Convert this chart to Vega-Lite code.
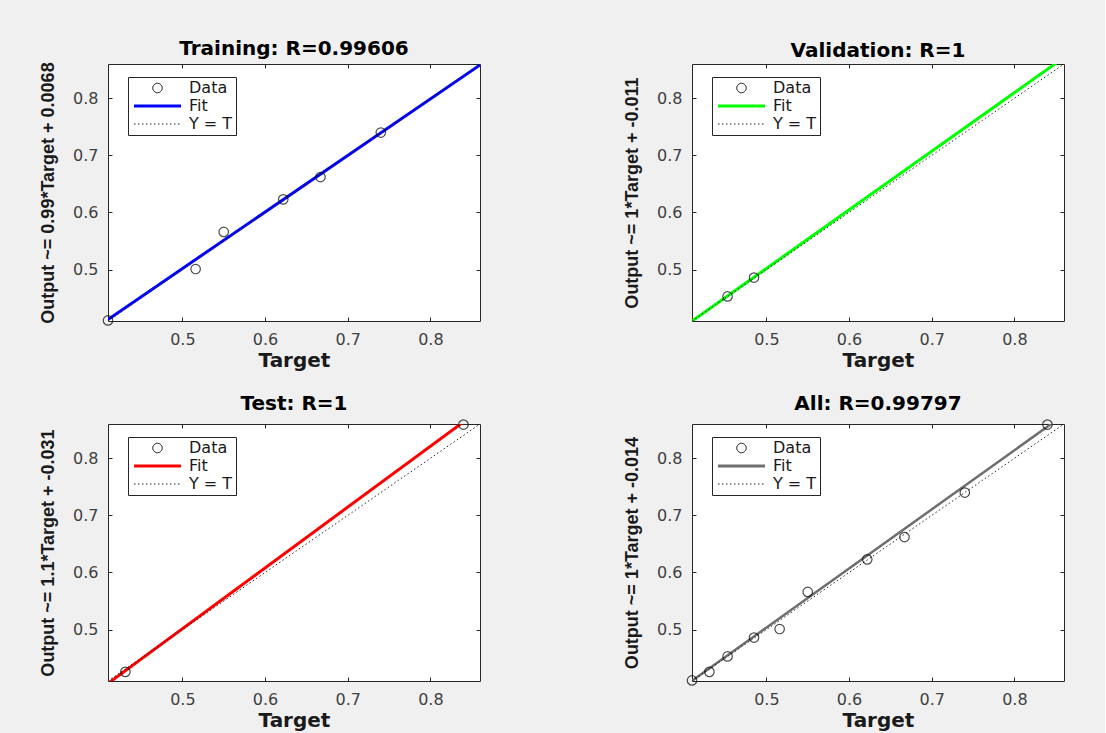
{
  "$schema": "https://vega.github.io/schema/vega-lite/v6.json",
  "background": "#f0f0f0",
  "padding": {"left": 39, "top": 38, "right": 40, "bottom": 3},
  "datasets": {
    "train_pts": [
      {"t": 0.41, "o": 0.411, "series": "Data"},
      {"t": 0.516, "o": 0.501, "series": "Data"},
      {"t": 0.55, "o": 0.566, "series": "Data"},
      {"t": 0.622, "o": 0.623, "series": "Data"},
      {"t": 0.667, "o": 0.662, "series": "Data"},
      {"t": 0.74, "o": 0.74, "series": "Data"}
    ],
    "val_pts": [
      {"t": 0.453, "o": 0.453, "series": "Data"},
      {"t": 0.485, "o": 0.486, "series": "Data"}
    ],
    "test_pts": [
      {"t": 0.431, "o": 0.426, "series": "Data"},
      {"t": 0.84, "o": 0.859, "series": "Data"}
    ],
    "all_pts": [
      {"t": 0.41, "o": 0.411, "series": "Data"},
      {"t": 0.431, "o": 0.426, "series": "Data"},
      {"t": 0.453, "o": 0.453, "series": "Data"},
      {"t": 0.485, "o": 0.486, "series": "Data"},
      {"t": 0.516, "o": 0.501, "series": "Data"},
      {"t": 0.55, "o": 0.566, "series": "Data"},
      {"t": 0.622, "o": 0.623, "series": "Data"},
      {"t": 0.667, "o": 0.662, "series": "Data"},
      {"t": 0.74, "o": 0.74, "series": "Data"},
      {"t": 0.84, "o": 0.859, "series": "Data"}
    ],
    "train_fit": [
      {"t": 0.41, "o": 0.4127, "series": "Fit"},
      {"t": 0.86, "o": 0.8582, "series": "Fit"}
    ],
    "val_fit": [
      {"t": 0.41, "o": 0.4097, "series": "Fit"},
      {"t": 0.86, "o": 0.8714, "series": "Fit"}
    ],
    "test_fit": [
      {"t": 0.41, "o": 0.4057, "series": "Fit"},
      {"t": 0.86, "o": 0.8849, "series": "Fit"}
    ],
    "all_fit": [
      {"t": 0.41, "o": 0.4104, "series": "Fit"},
      {"t": 0.86, "o": 0.8761, "series": "Fit"}
    ],
    "identity": [
      {"t": 0.41, "o": 0.41, "series": "Y = T"},
      {"t": 0.86, "o": 0.86, "series": "Y = T"}
    ]
  },
  "columns": 2,
  "spacing": {"column": 142, "row": 22},
  "resolve": {"scale": {"color": "independent"}, "legend": {"color": "independent"}},
  "concat": [
    {
      "width": 372, "height": 257,
      "title": {"text": "Training: R=0.99606"},
      "resolve": {"axis": {"x": "independent", "y": "independent"}},
      "layer": [
        {
          "data": {"name": "train_fit"},
          "mark": {"type": "line", "clip": true, "strokeWidth": 3},
          "encoding": {
            "x": {"field": "t", "type": "quantitative", "scale": {"domain": [0.41, 0.86], "nice": false, "zero": false}, "axis": {"orient": "bottom", "values": [0.5, 0.6, 0.7, 0.8], "format": ".1f", "title": "Target"}},
            "y": {"field": "o", "type": "quantitative", "scale": {"domain": [0.41, 0.86], "nice": false, "zero": false}, "axis": {"orient": "left", "values": [0.5, 0.6, 0.7, 0.8], "format": ".1f", "title": "Output ~= 0.99*Target + 0.0068"}},
            "color": {"field": "series", "type": "nominal", "scale": {"domain": ["Data", "Fit", "Y = T"], "range": ["#000000", "#0000ff", "#262626"]},
              "legend": {"title": null, "orient": "none", "legendX": 20, "legendY": 13,
                "encode": {"symbols": {"update": {
                  "shape": {"signal": "datum.value === 'Data' ? 'circle' : 'M-2.35,0H2.35'"},
                  "size": {"signal": "datum.value === 'Data' ? 90 : 400"},
                  "strokeDash": {"signal": "datum.value === 'Y = T' ? [1.5, 2.5] : [1, 0]"},
                  "strokeWidth": {"signal": "datum.value === 'Fit' ? 3 : 1"},
                  "stroke": {"signal": "datum.value === 'Fit' ? '#0000ff' : (datum.value === 'Data' ? '#000000' : '#262626')"},
                  "fill": {"value": "transparent"},
                  "x": {"value": 26.5}
                }}}}}
          }
        },
        {
          "data": {"name": "identity"},
          "mark": {"type": "line", "clip": true, "strokeWidth": 1, "strokeDash": [1.5, 2.5]},
          "encoding": {
            "x": {"field": "t", "type": "quantitative", "scale": {"domain": [0.41, 0.86], "nice": false, "zero": false}, "axis": {"orient": "top", "values": [0.5, 0.6, 0.7, 0.8], "labels": false, "title": null}},
            "y": {"field": "o", "type": "quantitative", "scale": {"domain": [0.41, 0.86], "nice": false, "zero": false}, "axis": {"orient": "right", "values": [0.5, 0.6, 0.7, 0.8], "labels": false, "title": null}},
            "color": {"field": "series", "type": "nominal"}
          }
        },
        {
          "data": {"name": "train_pts"},
          "mark": {"type": "point", "shape": "circle", "filled": false, "size": 90, "strokeWidth": 1.2},
          "encoding": {
            "x": {"field": "t", "type": "quantitative", "axis": null},
            "y": {"field": "o", "type": "quantitative", "axis": null},
            "color": {"field": "series", "type": "nominal"}
          }
        }
      ]
    },
    {
      "width": 372, "height": 257,
      "title": {"text": "Validation: R=1"},
      "resolve": {"axis": {"x": "independent", "y": "independent"}},
      "layer": [
        {
          "data": {"name": "val_fit"},
          "mark": {"type": "line", "clip": true, "strokeWidth": 3},
          "encoding": {
            "x": {"field": "t", "type": "quantitative", "scale": {"domain": [0.41, 0.86], "nice": false, "zero": false}, "axis": {"orient": "bottom", "values": [0.5, 0.6, 0.7, 0.8], "format": ".1f", "title": "Target"}},
            "y": {"field": "o", "type": "quantitative", "scale": {"domain": [0.41, 0.86], "nice": false, "zero": false}, "axis": {"orient": "left", "values": [0.5, 0.6, 0.7, 0.8], "format": ".1f", "title": "Output ~= 1*Target + -0.011"}},
            "color": {"field": "series", "type": "nominal", "scale": {"domain": ["Data", "Fit", "Y = T"], "range": ["#000000", "#00ff00", "#262626"]},
              "legend": {"title": null, "orient": "none", "legendX": 20, "legendY": 13,
                "encode": {"symbols": {"update": {
                  "shape": {"signal": "datum.value === 'Data' ? 'circle' : 'M-2.35,0H2.35'"},
                  "size": {"signal": "datum.value === 'Data' ? 90 : 400"},
                  "strokeDash": {"signal": "datum.value === 'Y = T' ? [1.5, 2.5] : [1, 0]"},
                  "strokeWidth": {"signal": "datum.value === 'Fit' ? 3 : 1"},
                  "stroke": {"signal": "datum.value === 'Fit' ? '#00ff00' : (datum.value === 'Data' ? '#000000' : '#262626')"},
                  "fill": {"value": "transparent"},
                  "x": {"value": 26.5}
                }}}}}
          }
        },
        {
          "data": {"name": "identity"},
          "mark": {"type": "line", "clip": true, "strokeWidth": 1, "strokeDash": [1.5, 2.5]},
          "encoding": {
            "x": {"field": "t", "type": "quantitative", "scale": {"domain": [0.41, 0.86], "nice": false, "zero": false}, "axis": {"orient": "top", "values": [0.5, 0.6, 0.7, 0.8], "labels": false, "title": null}},
            "y": {"field": "o", "type": "quantitative", "scale": {"domain": [0.41, 0.86], "nice": false, "zero": false}, "axis": {"orient": "right", "values": [0.5, 0.6, 0.7, 0.8], "labels": false, "title": null}},
            "color": {"field": "series", "type": "nominal"}
          }
        },
        {
          "data": {"name": "val_pts"},
          "mark": {"type": "point", "shape": "circle", "filled": false, "size": 90, "strokeWidth": 1.2},
          "encoding": {
            "x": {"field": "t", "type": "quantitative", "axis": null},
            "y": {"field": "o", "type": "quantitative", "axis": null},
            "color": {"field": "series", "type": "nominal"}
          }
        }
      ]
    },
    {
      "width": 372, "height": 257,
      "title": {"text": "Test: R=1"},
      "resolve": {"axis": {"x": "independent", "y": "independent"}},
      "layer": [
        {
          "data": {"name": "test_fit"},
          "mark": {"type": "line", "clip": true, "strokeWidth": 3},
          "encoding": {
            "x": {"field": "t", "type": "quantitative", "scale": {"domain": [0.41, 0.86], "nice": false, "zero": false}, "axis": {"orient": "bottom", "values": [0.5, 0.6, 0.7, 0.8], "format": ".1f", "title": "Target"}},
            "y": {"field": "o", "type": "quantitative", "scale": {"domain": [0.41, 0.86], "nice": false, "zero": false}, "axis": {"orient": "left", "values": [0.5, 0.6, 0.7, 0.8], "format": ".1f", "title": "Output ~= 1.1*Target + -0.031"}},
            "color": {"field": "series", "type": "nominal", "scale": {"domain": ["Data", "Fit", "Y = T"], "range": ["#000000", "#ff0000", "#262626"]},
              "legend": {"title": null, "orient": "none", "legendX": 20, "legendY": 13,
                "encode": {"symbols": {"update": {
                  "shape": {"signal": "datum.value === 'Data' ? 'circle' : 'M-2.35,0H2.35'"},
                  "size": {"signal": "datum.value === 'Data' ? 90 : 400"},
                  "strokeDash": {"signal": "datum.value === 'Y = T' ? [1.5, 2.5] : [1, 0]"},
                  "strokeWidth": {"signal": "datum.value === 'Fit' ? 3 : 1"},
                  "stroke": {"signal": "datum.value === 'Fit' ? '#ff0000' : (datum.value === 'Data' ? '#000000' : '#262626')"},
                  "fill": {"value": "transparent"},
                  "x": {"value": 26.5}
                }}}}}
          }
        },
        {
          "data": {"name": "identity"},
          "mark": {"type": "line", "clip": true, "strokeWidth": 1, "strokeDash": [1.5, 2.5]},
          "encoding": {
            "x": {"field": "t", "type": "quantitative", "scale": {"domain": [0.41, 0.86], "nice": false, "zero": false}, "axis": {"orient": "top", "values": [0.5, 0.6, 0.7, 0.8], "labels": false, "title": null}},
            "y": {"field": "o", "type": "quantitative", "scale": {"domain": [0.41, 0.86], "nice": false, "zero": false}, "axis": {"orient": "right", "values": [0.5, 0.6, 0.7, 0.8], "labels": false, "title": null}},
            "color": {"field": "series", "type": "nominal"}
          }
        },
        {
          "data": {"name": "test_pts"},
          "mark": {"type": "point", "shape": "circle", "filled": false, "size": 90, "strokeWidth": 1.2},
          "encoding": {
            "x": {"field": "t", "type": "quantitative", "axis": null},
            "y": {"field": "o", "type": "quantitative", "axis": null},
            "color": {"field": "series", "type": "nominal"}
          }
        }
      ]
    },
    {
      "width": 372, "height": 257,
      "title": {"text": "All: R=0.99797"},
      "resolve": {"axis": {"x": "independent", "y": "independent"}},
      "layer": [
        {
          "data": {"name": "all_fit"},
          "mark": {"type": "line", "clip": true, "strokeWidth": 2.5},
          "encoding": {
            "x": {"field": "t", "type": "quantitative", "scale": {"domain": [0.41, 0.86], "nice": false, "zero": false}, "axis": {"orient": "bottom", "values": [0.5, 0.6, 0.7, 0.8], "format": ".1f", "title": "Target"}},
            "y": {"field": "o", "type": "quantitative", "scale": {"domain": [0.41, 0.86], "nice": false, "zero": false}, "axis": {"orient": "left", "values": [0.5, 0.6, 0.7, 0.8], "format": ".1f", "title": "Output ~= 1*Target + -0.014"}},
            "color": {"field": "series", "type": "nominal", "scale": {"domain": ["Data", "Fit", "Y = T"], "range": ["#000000", "#6e6e6e", "#262626"]},
              "legend": {"title": null, "orient": "none", "legendX": 20, "legendY": 13,
                "encode": {"symbols": {"update": {
                  "shape": {"signal": "datum.value === 'Data' ? 'circle' : 'M-2.35,0H2.35'"},
                  "size": {"signal": "datum.value === 'Data' ? 90 : 400"},
                  "strokeDash": {"signal": "datum.value === 'Y = T' ? [1.5, 2.5] : [1, 0]"},
                  "strokeWidth": {"signal": "datum.value === 'Fit' ? 3 : 1"},
                  "stroke": {"signal": "datum.value === 'Fit' ? '#6e6e6e' : (datum.value === 'Data' ? '#000000' : '#262626')"},
                  "fill": {"value": "transparent"},
                  "x": {"value": 26.5}
                }}}}}
          }
        },
        {
          "data": {"name": "identity"},
          "mark": {"type": "line", "clip": true, "strokeWidth": 1, "strokeDash": [1.5, 2.5]},
          "encoding": {
            "x": {"field": "t", "type": "quantitative", "scale": {"domain": [0.41, 0.86], "nice": false, "zero": false}, "axis": {"orient": "top", "values": [0.5, 0.6, 0.7, 0.8], "labels": false, "title": null}},
            "y": {"field": "o", "type": "quantitative", "scale": {"domain": [0.41, 0.86], "nice": false, "zero": false}, "axis": {"orient": "right", "values": [0.5, 0.6, 0.7, 0.8], "labels": false, "title": null}},
            "color": {"field": "series", "type": "nominal"}
          }
        },
        {
          "data": {"name": "all_pts"},
          "mark": {"type": "point", "shape": "circle", "filled": false, "size": 90, "strokeWidth": 1.2},
          "encoding": {
            "x": {"field": "t", "type": "quantitative", "axis": null},
            "y": {"field": "o", "type": "quantitative", "axis": null},
            "color": {"field": "series", "type": "nominal"}
          }
        }
      ]
    }
  ],
  "config": {
    "font": "DejaVu Sans",
    "view": {"fill": "white", "stroke": "#262626", "strokeWidth": 1},
    "axis": {"domain": false, "grid": false, "ticks": true, "tickSize": -4, "tickColor": "#262626", "tickWidth": 1, "labelFont": "DejaVu Sans", "labelFontSize": 16, "labelColor": "#404040", "labelPadding": 14, "titleColor": "#1a1a1a", "titleFontWeight": "bold"},
    "axisX": {"titleFont": "DejaVu Sans", "titleFontSize": 20, "titlePadding": 3},
    "axisY": {"titleFont": "Liberation Sans", "titleFontSize": 18, "titlePadding": 15},
    "title": {"font": "DejaVu Sans", "fontSize": 20, "fontWeight": "bold", "color": "#000000", "offset": 3, "baseline": "alphabetic", "frame": "group", "anchor": "middle"},
    "legend": {"strokeColor": "#262626", "fillColor": "white", "padding": 3, "rowPadding": 2, "labelFont": "DejaVu Sans", "labelFontSize": 16, "labelColor": "#1a1a1a", "symbolSize": 100, "labelOffset": 42}
  }
}
